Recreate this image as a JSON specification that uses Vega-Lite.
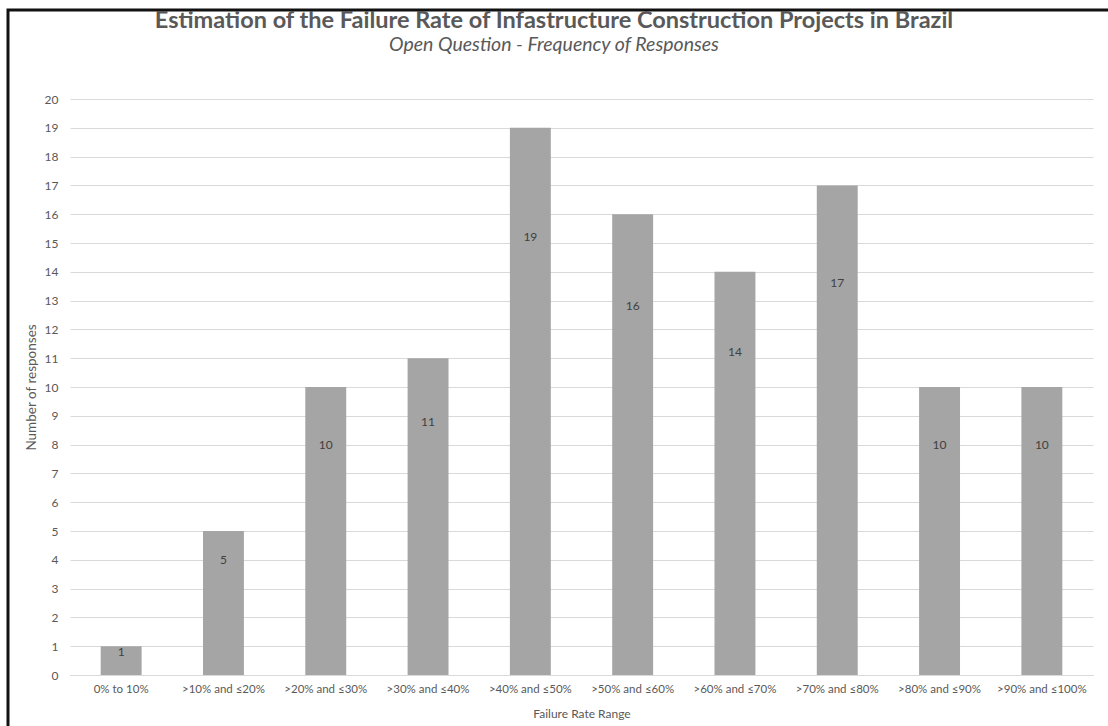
{
  "$schema": "https://vega.github.io/schema/vega-lite/v6.json",
  "width": 1110,
  "height": 730,
  "autosize": {"type": "none"},
  "padding": {"left": 8, "top": 10, "right": 0, "bottom": 0},
  "background": "white",
  "title": {
    "text": "Estimation of the Failure Rate of Infastructure Construction Projects in Brazil",
    "subtitle": "Open Question - Frequency of Responses",
    "anchor": "middle",
    "frame": "group",
    "font": "Lato",
    "fontSize": 23.5,
    "fontWeight": "bold",
    "color": "#595959",
    "subtitleFont": "Lato",
    "subtitleFontSize": 19.5,
    "subtitleFontStyle": "italic",
    "subtitleColor": "#595959",
    "subtitlePadding": 3,
    "dx": -9,
    "dy": 48
  },
  "data": {
    "values": [
      {"range": "0% to 10%", "n": 1},
      {"range": ">10% and ≤20%", "n": 5},
      {"range": ">20% and ≤30%", "n": 10},
      {"range": ">30% and ≤40%", "n": 11},
      {"range": ">40% and ≤50%", "n": 19},
      {"range": ">50% and ≤60%", "n": 16},
      {"range": ">60% and ≤70%", "n": 14},
      {"range": ">70% and ≤80%", "n": 17},
      {"range": ">80% and ≤90%", "n": 10},
      {"range": ">90% and ≤100%", "n": 10}
    ]
  },
  "transform": [{"calculate": "datum.n * 0.8", "as": "labelAt"}],
  "encoding": {
    "x": {
      "field": "range",
      "type": "nominal",
      "sort": null,
      "scale": {"range": [62, 1085], "paddingInner": 0.6, "paddingOuter": 0.3},
      "axis": {
        "title": "Failure Rate Range",
        "offset": -65,
        "labelAngle": 0,
        "labelFont": "Lato",
        "labelFontSize": 11.5,
        "labelColor": "#595959",
        "labelPadding": 8,
        "ticks": false,
        "domainColor": "#d9d9d9",
        "domainWidth": 1,
        "titleFont": "Lato",
        "titleFontSize": 12,
        "titleFontWeight": "normal",
        "titleColor": "#595959",
        "titlePadding": 14
      }
    },
    "y": {
      "type": "quantitative",
      "scale": {"domain": [0, 20], "range": [665, 89], "nice": false},
      "axis": {
        "title": "Number of responses",
        "offset": -62,
        "values": [0, 1, 2, 3, 4, 5, 6, 7, 8, 9, 10, 11, 12, 13, 14, 15, 16, 17, 18, 19, 20],
        "domain": false,
        "ticks": false,
        "grid": true,
        "gridColor": "#d9d9d9",
        "gridWidth": 1,
        "labelFont": "Lato",
        "labelFontSize": 12,
        "labelColor": "#595959",
        "labelPadding": 12,
        "titleFont": "Lato",
        "titleFontSize": 13.5,
        "titleFontWeight": "normal",
        "titleColor": "#595959",
        "titlePadding": 6
      }
    }
  },
  "layer": [
    {
      "mark": {"type": "bar", "color": "#a5a5a5"},
      "encoding": {"y": {"field": "n"}}
    },
    {
      "mark": {"type": "text", "font": "Lato", "fontSize": 12, "color": "#404040", "baseline": "middle"},
      "encoding": {
        "y": {"field": "labelAt"},
        "text": {"field": "n", "type": "quantitative"}
      }
    }
  ],
  "config": {
    "view": {"stroke": "#111111", "strokeWidth": 3}
  }
}
